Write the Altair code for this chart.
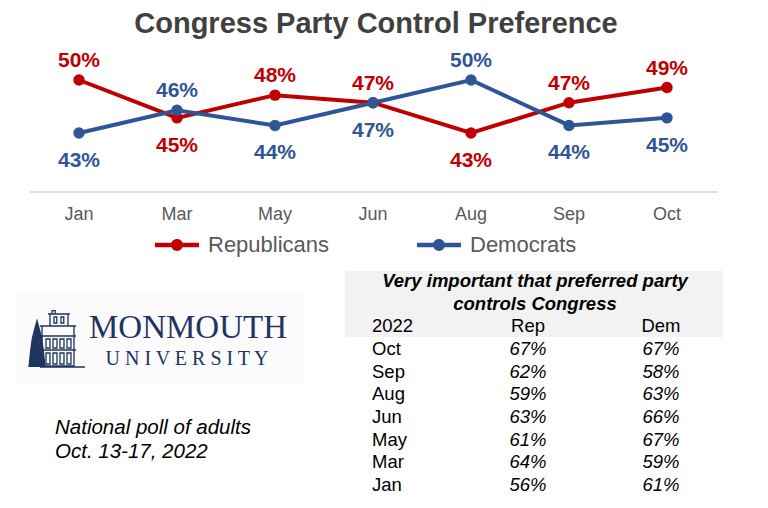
import altair as alt
import pandas as pd

# ---------------- data ----------------
months = ["Jan", "Mar", "May", "Jun", "Aug", "Sep", "Oct"]
republicans = [50, 45, 48, 47, 43, 47, 49]
democrats = [43, 46, 44, 47, 50, 44, 45]
rep_label_side = ["above", "below", "above", "above", "below", "above", "above"]
dem_label_side = ["below", "above", "below", "below", "above", "below", "below"]
series = ["Republicans", "Democrats"]

chart_title = "Congress Party Control Preference"

table_title = ["Very important that preferred party", "controls Congress"]
table_header = ["2022", "Rep", "Dem"]
table_months = ["Oct", "Sep", "Aug", "Jun", "May", "Mar", "Jan"]
table_rep = ["67%", "62%", "59%", "63%", "61%", "64%", "56%"]
table_dem = ["67%", "58%", "63%", "66%", "67%", "59%", "61%"]

note_lines = ["National poll of adults", "Oct. 13-17, 2022"]
logo_name = "MONMOUTH"
logo_sub = "U N I V E R S I T Y"

# ---------------- styles ----------------
FONT = "Liberation Sans"
SERIF = "Liberation Serif"
RED = "#C00000"
BLUE = "#2F5597"
NAVY = "#1E3560"
GRAY_TXT = "#595959"

# ---------------- line chart ----------------
rows = []
for i, (m, v, s) in enumerate(zip(months, republicans, rep_label_side)):
    rows.append(dict(idx=i, month=m, party="Republicans", value=v, side=s, label=f"{v}%"))
for i, (m, v, s) in enumerate(zip(months, democrats, dem_label_side)):
    rows.append(dict(idx=i, month=m, party="Democrats", value=v, side=s, label=f"{v}%"))
df = pd.DataFrame(rows)
one = pd.DataFrame({"k": [0]})

color_scale = alt.Scale(domain=series, range=[RED, BLUE])
x_scale = alt.Scale(type="point", domain=months, range=[71, 659], padding=0)
y_scale = alt.Scale(domain=[43, 50], range=[125, 72], nice=False, zero=False)
X = alt.X("month:N", scale=x_scale, axis=None)
Y = alt.Y("value:Q", scale=y_scale, axis=None)

base = alt.Chart(df)

rule = alt.Chart(one).mark_rule(color="#d9d9d9", strokeWidth=1.5).encode(
    x=alt.value(22), x2=alt.value(710), y=alt.value(184)
)

line = base.mark_line(strokeWidth=4).encode(
    X, Y,
    color=alt.Color("party:N", scale=color_scale, legend=None),
    detail="party:N",
    order=alt.Order("idx:Q"),
)

points = base.mark_circle(size=130, opacity=1).encode(
    X, Y, color=alt.Color("party:N", scale=color_scale, legend=None)
)

lab_above = base.transform_filter(alt.datum.side == "above").mark_text(
    dy=-19, fontSize=21, fontWeight="bold", font=FONT, baseline="middle"
).encode(X, Y, text="label:N",
         color=alt.Color("party:N", scale=color_scale, legend=None))

lab_below = base.transform_filter(alt.datum.side == "below").mark_text(
    dy=28, fontSize=21, fontWeight="bold", font=FONT, baseline="middle"
).encode(X, Y, text="label:N",
         color=alt.Color("party:N", scale=color_scale, legend=None))

xlab = alt.Chart(pd.DataFrame({"month": months})).mark_text(
    fontSize=18, color=GRAY_TXT, font=FONT, baseline="middle"
).encode(X, y=alt.value(207), text="month:N")

top = alt.layer(rule, line, points, lab_above, lab_below, xlab)

# ---------------- legend (drawn) ----------------
legend_symbol = (
    "M-1,-0.1L1,-0.1L1,0.1L-1,0.1Z"
    "M-0.27,0A0.27,0.27 0 1,1 0.27,0A0.27,0.27 0 1,1 -0.27,0Z"
)
legend_df = pd.DataFrame({"party": series})
LX = alt.X("party:N", scale=alt.Scale(type="point", domain=series, range=[169, 431], padding=0), axis=None)
leg_sym = alt.Chart(legend_df).mark_point(
    shape=legend_symbol, size=1936, filled=True, opacity=1, strokeWidth=0
).encode(x=LX, y=alt.value(237), fill=alt.Fill("party:N", scale=color_scale, legend=None))
leg_txt = alt.Chart(legend_df).mark_text(
    align="left", dx=31, fontSize=22, font=FONT, color=GRAY_TXT, baseline="middle"
).encode(x=LX, y=alt.value(237), text="party:N")
legend = alt.layer(leg_sym, leg_txt)

title = alt.Chart(one).mark_text(
    fontSize=29, fontWeight="bold", font=FONT, color="#404040", baseline="alphabetic"
).encode(x=alt.value(368), y=alt.value(25), text=alt.value(chart_title))

# ---------------- table ----------------
row_domain = table_title + [table_header[0]] + table_months
ty_scale = alt.Scale(type="point", domain=row_domain, range=[273, 477], padding=0)
TY = alt.Y("row:N", scale=ty_scale, axis=None)

table_bg = alt.Chart(one).mark_rect(color="#f2f2f2").encode(
    x=alt.value(337), x2=alt.value(715), y=alt.value(263), y2=alt.value(329)
)

ttitle = alt.Chart(pd.DataFrame({"row": table_title, "text": table_title})).mark_text(
    fontSize=18.5, fontWeight="bold", fontStyle="italic", font=FONT, color="#000000",
    baseline="middle", align="center"
).encode(x=alt.value(527), y=TY, text="text:N")

first_col = [table_header[0]] + table_months
tmonth = alt.Chart(pd.DataFrame({"row": first_col, "text": first_col})).mark_text(
    fontSize=18.5, font=FONT, color="#000000", baseline="middle", align="left"
).encode(x=alt.value(364), y=TY, text="text:N")

cells = []
for c, vals in (("Rep", table_rep), ("Dem", table_dem)):
    for r, v in zip(table_months, vals):
        cells.append(dict(row=r, col=c, text=v))
cells_df = pd.DataFrame(cells)
hdr_df = pd.DataFrame({"row": [table_header[0]] * 2, "col": table_header[1:], "text": table_header[1:]})
tx_scale = alt.Scale(type="point", domain=table_header[1:], range=[520, 653], padding=0)
TX = alt.X("col:N", scale=tx_scale, axis=None)

thead = alt.Chart(hdr_df).mark_text(
    fontSize=18.5, font=FONT, color="#000000", baseline="middle", align="center"
).encode(x=TX, y=TY, text="text:N")
tvals = alt.Chart(cells_df).mark_text(
    fontSize=18.5, font=FONT, fontStyle="italic", color="#000000",
    baseline="middle", align="center"
).encode(x=TX, y=TY, text="text:N")

table = alt.layer(table_bg, ttitle, tmonth, thead, tvals)

# ---------------- logo & notes ----------------
logo_bg = alt.Chart(one).mark_rect(color="#fbfbfb").encode(
    x=alt.value(7), x2=alt.value(297), y=alt.value(282), y2=alt.value(377)
)

win = ""
for wx in [-0.429, -0.179, 0.071, 0.321]:
    for (y0, y1) in [(-0.036, 0.286), (0.464, 0.857)]:
        win += f"M{wx},{y0}L{wx+0.143:.3f},{y0}L{wx+0.143:.3f},{y1}L{wx},{y1}Z"
for wx in [-0.143, 0.107]:
    win += f"M{wx},-0.821L{wx+0.1:.3f},-0.821L{wx+0.1:.3f},-0.607L{wx},-0.607Z"
building_path = (
    "M-0.571,-0.5L0.571,-0.5L0.571,0.929L-0.571,0.929Z"
    "M-0.286,-0.5L-0.286,-0.929L0.357,-0.929L0.357,-0.5"
    "M-0.357,-0.929L0.429,-0.929"
    "M-0.214,-0.929L-0.214,-1.05L-0.1,-1.05L-0.1,-0.929"
    "M-0.643,-0.143L0.643,-0.143M-0.643,0.357L0.643,0.357M-0.643,-0.5L0.643,-0.5"
    "M-0.643,0.964L0.964,0.964"
    + win
)
tree_path = (
    "M-0.75,-0.78L-0.66,-0.45L-0.56,-0.05L-0.5,0.4L-0.44,0.964"
    "L-1.06,0.964L-1.0,0.4L-0.94,-0.05L-0.84,-0.45Z"
)

building = alt.Chart(one).mark_point(
    shape=building_path, size=3136, filled=False, stroke=NAVY, strokeWidth=1.3, opacity=1
).encode(x=alt.value(50), y=alt.value(332))
tree = alt.Chart(one).mark_point(
    shape=tree_path, size=3136, filled=True, fill=NAVY, strokeWidth=0, opacity=1
).encode(x=alt.value(50), y=alt.value(332))

name_txt = alt.Chart(one).mark_text(
    fontSize=33, font=SERIF, color=NAVY, align="center", baseline="alphabetic"
).encode(x=alt.value(180), y=alt.value(330), text=alt.value(logo_name))
sub_txt = alt.Chart(one).mark_text(
    fontSize=20, font=SERIF, color=NAVY, align="center", baseline="alphabetic"
).encode(x=alt.value(179), y=alt.value(357), text=alt.value(logo_sub))

notes = alt.Chart(pd.DataFrame({"row": note_lines, "text": note_lines})).mark_text(
    fontSize=20.5, font=FONT, fontStyle="italic", color="#000000",
    align="left", baseline="alphabetic"
).encode(
    x=alt.value(47),
    y=alt.Y("row:N", scale=alt.Scale(type="point", domain=note_lines, range=[426, 450], padding=0), axis=None),
    text="text:N",
)

chart = alt.layer(
    logo_bg, building, tree, name_txt, sub_txt, notes, title, top, legend, table
).resolve_scale(
    x="independent", y="independent", color="independent", fill="independent"
).properties(
    width=752, height=492, padding=0,
    autosize=alt.AutoSizeParams(type="none"),
).configure_view(stroke=None)

chart.save("out.html", embed_options={"renderer": "svg", "actions": False})
